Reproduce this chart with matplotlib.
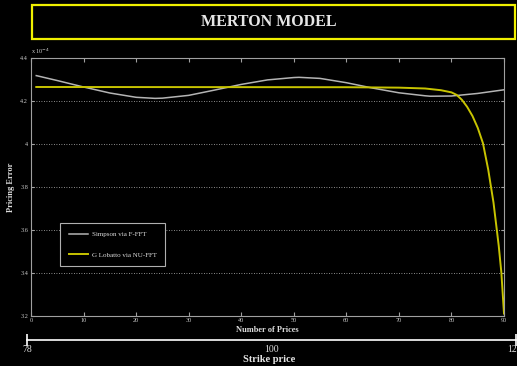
import numpy as np
import matplotlib
matplotlib.use('Agg')
import matplotlib.pyplot as plt
from matplotlib.patches import Rectangle
from matplotlib.transforms import blended_transform_factory

# pricing error (x 1e-4) against number of prices
simpson_x = [1, 5, 10, 15, 20, 23.6, 25, 30, 35, 40, 45, 50, 51, 55, 60, 65, 70, 75, 76, 80, 85, 90]
simpson_y = [4.318, 4.295, 4.265, 4.237, 4.217, 4.212, 4.213, 4.226, 4.251, 4.277, 4.298, 4.309, 4.310,
             4.305, 4.285, 4.260, 4.238, 4.224, 4.222, 4.223, 4.235, 4.252]

lobatto_x = [1, 60, 70, 75, 78, 80, 81, 82, 83, 84, 85, 86, 87, 88, 89, 89.5, 90]
lobatto_y = [4.265, 4.264, 4.262, 4.258, 4.250, 4.240, 4.228, 4.205, 4.172, 4.130, 4.075, 4.003,
             3.880, 3.727, 3.525, 3.400, 3.210]

y_ticks = [3.2, 3.4, 3.6, 3.8, 4.0, 4.2, 4.4]
y_ticklabels = ['3.2', '3.4', '3.6', '3.8', '4', '4.2', '4.4']
x_ticks = [0, 10, 20, 30, 40, 50, 60, 70, 80, 90]

strike_min, strike_mid, strike_max = 78, 100, 122

plt.rcParams['font.family'] = ['Liberation Serif', 'DejaVu Serif']

W, H = 517, 366
fig = plt.figure(figsize=(W / 100, H / 100), dpi=100, facecolor='black')

# title box
fig.add_artist(Rectangle((32 / W, 1 - 39 / H), 483 / W, 34 / H, transform=fig.transFigure,
                         facecolor='black', edgecolor='#f0f000', linewidth=1.6))
fig.text(269 / W, 1 - 22 / H, 'MERTON MODEL', ha='center', va='center', color='#e6e6e6',
         fontsize=11.5, fontweight='bold')

ax = fig.add_axes([31 / W, 1 - 315.7 / H, 473 / W, 257.7 / H], facecolor='black')
ax.plot(simpson_x, simpson_y, color='#b4b4b4', lw=1.1, label='Simpson via F-FFT')
ax.plot(lobatto_x, lobatto_y, color='#c8c400', lw=1.4, label='G Lobatto via NU-FFT')

ax.set_xlim(0, 90)
ax.set_ylim(3.2, 4.4)
ax.set_xticks(x_ticks)
ax.set_yticks(y_ticks)
ax.set_yticklabels(y_ticklabels)
ax.yaxis.grid(True, color='#bbbbbb', linestyle=(0, (1, 2)), linewidth=0.6)
for s in ax.spines.values():
    s.set_color('#a0a0a0')
    s.set_linewidth(0.8)
ax.tick_params(axis='x', direction='in', top=True, length=3, color='#a0a0a0',
               labelsize=4.5, labelcolor='#cccccc', pad=2)
ax.tick_params(axis='y', direction='in', right=True, length=2, color='#a0a0a0',
               labelsize=4.5, labelcolor='#cccccc', pad=2)
ax.text(0, 1.008, r'x 10$^{-4}$', transform=ax.transAxes, fontsize=4.5, color='#cccccc',
        ha='left', va='bottom')
ax.set_xlabel('Number of Prices', fontsize=6, fontweight='bold', color='#dddddd', labelpad=2)
ax.set_ylabel('Pricing Error', fontsize=6, fontweight='bold', color='#dddddd', labelpad=4)

leg = ax.legend(loc='upper left', bbox_to_anchor=(26 / 473, 1 - 161.5 / 257.7), fontsize=5,
                facecolor='black', edgecolor='#b0b0b0', labelcolor='#dddddd', framealpha=1,
                handlelength=2.8, handletextpad=0.5, labelspacing=2.1, borderpad=1.2,
                fancybox=False)
leg.get_frame().set_linewidth(0.8)

# strike price scale
ax2 = fig.add_axes([27.3 / W, 1 - 340.3 / H, 488.4 / W, 0.001], facecolor='none')
ax2.set_xlim(strike_min, strike_max)
for k in ['left', 'right', 'top']:
    ax2.spines[k].set_visible(False)
ax2.spines['bottom'].set_color('white')
ax2.spines['bottom'].set_linewidth(1.2)
ax2.set_yticks([])
ax2.set_xticks([strike_min, strike_max])
ax2.set_xticklabels([])
ax2.tick_params(axis='x', direction='inout', length=8, width=1.2, color='white')
lab_tr = blended_transform_factory(ax2.transData, fig.transFigure)
ax2.text(strike_min, 1 - 350 / H, '78', transform=lab_tr, ha='center', va='center',
         fontsize=7, color='#dddddd')
ax2.text(strike_mid, 1 - 350 / H, '100', transform=lab_tr, ha='center', va='center',
         fontsize=7, color='#dddddd')
fig.text(516.5 / W, 1 - 350 / H, '12', ha='right', va='center', fontsize=7, color='#dddddd')
fig.text(269 / W, 1 - 359 / H, 'Strike price', ha='center', va='center', fontsize=7.5,
         fontweight='bold', color='#e6e6e6')

fig.savefig('out.png', dpi=100, facecolor='black')
